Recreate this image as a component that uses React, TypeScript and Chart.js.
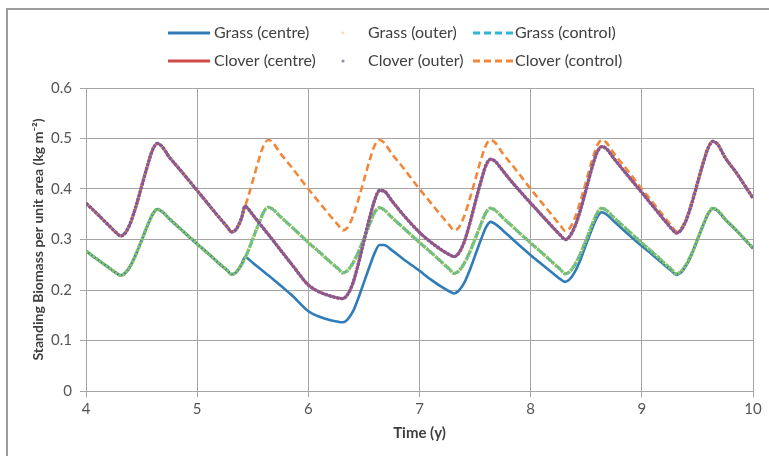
import React, { useEffect, useRef } from 'react';
import { Chart, registerables } from 'chart.js';

Chart.register(...registerables);

const FONT = "Lato, 'Open Sans', sans-serif";

// Time (y)
const time = [
  4.0, 4.1, 4.2, 4.27, 4.31, 4.35, 4.4, 4.45, 4.5, 4.55, 4.6, 4.64, 4.68, 4.75, 4.85,
  5.0, 5.1, 5.2, 5.27, 5.31, 5.35, 5.4, 5.43, 5.45, 5.5, 5.55, 5.6, 5.64, 5.68, 5.75, 5.85,
  6.0, 6.1, 6.2, 6.27, 6.31, 6.35, 6.4, 6.45, 6.5, 6.55, 6.6, 6.64, 6.68, 6.75, 6.85,
  7.0, 7.1, 7.2, 7.27, 7.31, 7.35, 7.4, 7.45, 7.5, 7.55, 7.6, 7.64, 7.68, 7.75, 7.85,
  8.0, 8.1, 8.2, 8.27, 8.31, 8.35, 8.4, 8.45, 8.5, 8.55, 8.6, 8.64, 8.68, 8.75, 8.85,
  9.0, 9.1, 9.2, 9.27, 9.31, 9.35, 9.4, 9.45, 9.5, 9.55, 9.6, 9.64, 9.68, 9.75, 9.85,
  10.0,
];

const grassCentre = [
  0.277, 0.261, 0.245, 0.234, 0.229, 0.233, 0.248, 0.271, 0.298, 0.326, 0.350, 0.360, 0.356, 0.341, 0.321,
  0.291, 0.272, 0.252, 0.239, 0.231, 0.235, 0.251, 0.265, 0.263, 0.254, 0.245, 0.236, 0.229, 0.222, 0.209, 0.190,
  0.158, 0.147, 0.140, 0.137, 0.136, 0.141, 0.157, 0.184, 0.215, 0.246, 0.275, 0.289, 0.289, 0.279, 0.262,
  0.238, 0.221, 0.206, 0.197, 0.193, 0.198, 0.213, 0.238, 0.268, 0.298, 0.325, 0.335, 0.331, 0.318, 0.298,
  0.269, 0.251, 0.233, 0.221, 0.216, 0.221, 0.237, 0.261, 0.291, 0.320, 0.345, 0.354, 0.350, 0.336, 0.316,
  0.287, 0.269, 0.250, 0.237, 0.230, 0.234, 0.249, 0.271, 0.299, 0.327, 0.352, 0.361, 0.357, 0.340, 0.318,
  0.282,
];

const grassControl = [
  0.277, 0.261, 0.245, 0.234, 0.229, 0.233, 0.248, 0.271, 0.298, 0.326, 0.350, 0.360, 0.356, 0.341, 0.321,
  0.291, 0.272, 0.252, 0.239, 0.231, 0.235, 0.251, 0.263, 0.273, 0.301, 0.329, 0.355, 0.364, 0.360, 0.345, 0.325,
  0.294, 0.275, 0.255, 0.242, 0.234, 0.238, 0.253, 0.275, 0.302, 0.330, 0.355, 0.363, 0.359, 0.344, 0.324,
  0.294, 0.275, 0.255, 0.241, 0.233, 0.237, 0.252, 0.274, 0.301, 0.329, 0.354, 0.362, 0.358, 0.343, 0.323,
  0.293, 0.274, 0.254, 0.240, 0.232, 0.236, 0.251, 0.273, 0.300, 0.328, 0.353, 0.362, 0.358, 0.343, 0.323,
  0.293, 0.274, 0.254, 0.240, 0.232, 0.236, 0.251, 0.273, 0.300, 0.328, 0.353, 0.362, 0.358, 0.340, 0.318,
  0.283,
];

// The outer grass plot tracks the control run
const grassOuter = grassControl;

const cloverCentre = [
  0.372, 0.351, 0.329, 0.314, 0.307, 0.312, 0.333, 0.366, 0.405, 0.444, 0.478, 0.490, 0.485, 0.463, 0.437,
  0.397, 0.370, 0.343, 0.325, 0.315, 0.320, 0.343, 0.366, 0.363, 0.349, 0.335, 0.321, 0.310, 0.299, 0.279, 0.251,
  0.210, 0.196, 0.188, 0.184, 0.183, 0.190, 0.213, 0.252, 0.297, 0.342, 0.380, 0.397, 0.396, 0.377, 0.350,
  0.314, 0.295, 0.279, 0.270, 0.266, 0.272, 0.294, 0.330, 0.372, 0.413, 0.448, 0.459, 0.455, 0.436, 0.409,
  0.372, 0.348, 0.324, 0.308, 0.300, 0.306, 0.327, 0.360, 0.400, 0.441, 0.474, 0.484, 0.480, 0.460, 0.433,
  0.393, 0.366, 0.339, 0.321, 0.313, 0.318, 0.339, 0.372, 0.411, 0.450, 0.483, 0.494, 0.489, 0.462, 0.432,
  0.382,
];

// The outer clover plot tracks the centre run
const cloverOuter = cloverCentre;

const cloverControl = [
  0.372, 0.351, 0.329, 0.314, 0.307, 0.312, 0.333, 0.366, 0.405, 0.444, 0.478, 0.490, 0.485, 0.463, 0.437,
  0.397, 0.370, 0.343, 0.325, 0.315, 0.320, 0.343, 0.365, 0.378, 0.416, 0.455, 0.487, 0.497, 0.492, 0.470, 0.443,
  0.400, 0.373, 0.346, 0.328, 0.318, 0.323, 0.345, 0.379, 0.417, 0.456, 0.488, 0.497, 0.492, 0.470, 0.443,
  0.400, 0.373, 0.346, 0.328, 0.318, 0.323, 0.345, 0.379, 0.417, 0.456, 0.488, 0.497, 0.492, 0.470, 0.443,
  0.400, 0.373, 0.346, 0.327, 0.317, 0.322, 0.344, 0.378, 0.416, 0.455, 0.487, 0.497, 0.492, 0.470, 0.443,
  0.400, 0.373, 0.345, 0.326, 0.316, 0.321, 0.342, 0.376, 0.414, 0.453, 0.485, 0.495, 0.490, 0.462, 0.432,
  0.382,
];

const xTickValues = [4, 5, 6, 7, 8, 9, 10];
const xTickLabels = ['4', '5', '6', '7', '8', '9', '10'];
const yTickValues = [0, 0.1, 0.2, 0.3, 0.4, 0.5, 0.6];
const yTickLabels = ['0', '0.1', '0.2', '0.3', '0.4', '0.5', '0.6'];

const seriesNames = [
  'Grass (centre)', 'Grass (outer)', 'Grass (control)',
  'Clover (centre)', 'Clover (outer)', 'Clover (control)',
];

const COLORS = {
  grassCentre: '#2f7cb8',
  grassOuter: '#86c067',
  grassOuterLegend: '#f2dfc0',
  grassControl: '#30b4d3',
  cloverCentre: '#cf4b47',
  cloverOuter: '#7d5b9d',
  cloverOuterLegend: '#9a88ac',
  cloverControl: '#f0873a',
};

const GRID = '#a8a3a3';

const pts = (ys: number[]) => time.map((t, i) => ({ x: t, y: ys[i] }));

const legendPlugin = {
  id: 'customLegend',
  afterDraw(chart: any) {
    const ctx = chart.ctx;
    ctx.save();
    ctx.font = `16px ${FONT}`;
    ctx.textBaseline = 'middle';
    ctx.textAlign = 'left';
    const rows = [33, 61];
    const items = [
      { kind: 'line', color: COLORS.grassCentre },
      { kind: 'dot', color: COLORS.grassOuterLegend },
      { kind: 'dash', color: COLORS.grassControl },
      { kind: 'line', color: COLORS.cloverCentre },
      { kind: 'dot', color: COLORS.cloverOuterLegend },
      { kind: 'dash', color: COLORS.cloverControl },
    ];
    const cols = [
      { x0: 168, x1: 210, tx: 214 },
      { x0: 343, x1: 343, tx: 368 },
      { x0: 473, x1: 513, tx: 515 },
    ];
    items.forEach((it, i) => {
      const y = rows[Math.floor(i / 3)];
      const c = cols[i % 3];
      ctx.strokeStyle = it.color;
      ctx.fillStyle = it.color;
      if (it.kind === 'dot') {
        ctx.beginPath();
        ctx.arc(c.x0, y, 1.6, 0, Math.PI * 2);
        ctx.fill();
      } else {
        ctx.lineWidth = 3;
        ctx.setLineDash(it.kind === 'dash' ? [7, 4] : []);
        ctx.beginPath();
        ctx.moveTo(c.x0, y);
        ctx.lineTo(c.x1, y);
        ctx.stroke();
        ctx.setLineDash([]);
      }
      ctx.fillStyle = '#404040';
      ctx.fillText(seriesNames[i], c.tx, y);
    });
    ctx.restore();
  },
};

const framePlugin = {
  id: 'frame',
  beforeDraw(chart: any) {
    const ctx = chart.ctx;
    ctx.save();
    ctx.fillStyle = '#ffffff';
    ctx.fillRect(0, 0, chart.width, chart.height);
    ctx.strokeStyle = '#9c9c9c';
    ctx.lineWidth = 2;
    ctx.strokeRect(7, 9, chart.width + 20, chart.height + 20);
    ctx.restore();
  },
};

export default function App() {
  const ref = useRef<HTMLCanvasElement | null>(null);

  useEffect(() => {
    if (!ref.current) return;
    const base = {
      pointRadius: 0,
      pointHoverRadius: 0,
      fill: false,
      cubicInterpolationMode: 'monotone' as const,
    };
    const chart = new Chart(ref.current, {
      type: 'line',
      data: {
        datasets: [
          { ...base, label: seriesNames[0], data: pts(grassCentre), borderColor: COLORS.grassCentre, borderWidth: 2.6, order: 5 },
          { ...base, label: seriesNames[1], data: pts(grassOuter), borderColor: COLORS.grassOuter, borderWidth: 3.4, borderDash: [3, 1], order: 2 },
          { ...base, label: seriesNames[2], data: pts(grassControl), borderColor: COLORS.grassControl, borderWidth: 2.6, borderDash: [7, 4], order: 6 },
          { ...base, label: seriesNames[3], data: pts(cloverCentre), borderColor: COLORS.cloverCentre, borderWidth: 2.6, order: 4 },
          { ...base, label: seriesNames[4], data: pts(cloverOuter), borderColor: COLORS.cloverOuter, borderWidth: 3.4, borderDash: [3, 1], order: 1 },
          { ...base, label: seriesNames[5], data: pts(cloverControl), borderColor: COLORS.cloverControl, borderWidth: 2.6, borderDash: [7, 4], order: 3 },
        ],
      },
      options: {
        responsive: false,
        animation: false,
        events: [],
        layout: { padding: { top: 88, right: 16, bottom: 0, left: 0 } },
        plugins: { legend: { display: false }, tooltip: { enabled: false } },
        scales: {
          x: {
            type: 'linear',
            min: 4,
            max: 10,
            afterBuildTicks: (s: any) => { s.ticks = xTickValues.map((v) => ({ value: v })); },
            afterFit: (s: any) => { s.height = 65; },
            grid: { color: GRID, lineWidth: 1, tickLength: 6 },
            border: { color: GRID },
            ticks: {
              color: '#555555',
              font: { family: FONT, size: 15 },
              padding: 3,
              maxRotation: 0,
              autoSkip: false,
              callback: (_v: any, i: number) => xTickLabels[i],
            },
            title: {
              display: true,
              text: 'Time (y)',
              color: '#404040',
              font: { family: FONT, size: 15, weight: 'bold' },
              padding: { top: 0, bottom: 14 },
            },
          },
          y: {
            type: 'linear',
            min: 0,
            max: 0.6,
            afterBuildTicks: (s: any) => { s.ticks = yTickValues.map((v) => ({ value: v })); },
            afterFit: (s: any) => { s.width = 86; },
            grid: { color: GRID, lineWidth: 1, tickLength: 6 },
            border: { color: GRID },
            ticks: {
              color: '#555555',
              font: { family: FONT, size: 15 },
              padding: 8,
              autoSkip: false,
              callback: (_v: any, i: number) => yTickLabels[i],
            },
            title: {
              display: true,
              text: 'Standing Biomass per unit area (kg m⁻²)',
              color: '#404040',
              font: { family: FONT, size: 14, weight: 'bold' },
              padding: { top: 30, bottom: 0 },
            },
          },
        },
      },
      plugins: [framePlugin, legendPlugin],
    } as any);
    return () => chart.destroy();
  }, []);

  return (
    <div style={{ position: 'fixed', left: 0, top: 0, width: 769, height: 456, background: '#fff' }}>
      <canvas ref={ref} width={769} height={456} style={{ display: 'block', width: 769, height: 456 }} />
    </div>
  );
}
